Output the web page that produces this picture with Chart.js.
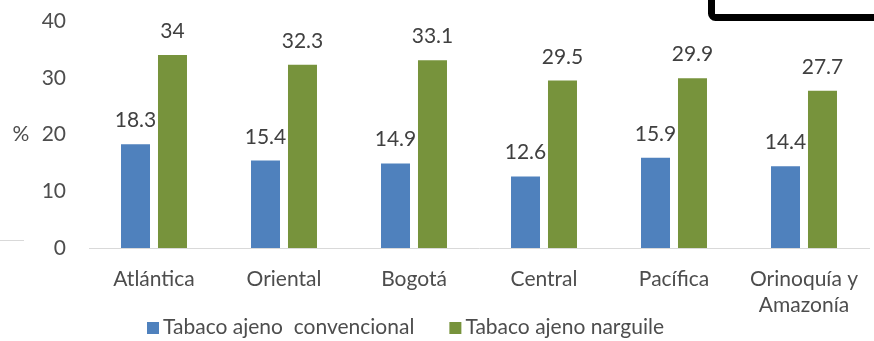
<!DOCTYPE html>
<html>
<head>
<meta charset="utf-8">
<script src="https://cdn.jsdelivr.net/npm/chart.js@4/dist/chart.umd.min.js"></script>
<style>
  body { margin: 0; background: #fff; }
</style>
</head>
<body>
<canvas id="tabacoRegion" width="874" height="341"></canvas>
<script>
// datos
var regiones = ['Atlántica', 'Oriental', 'Bogotá', 'Central', 'Pacífica', ['Orinoquía y', 'Amazonía']];
var convencional = [18.3, 15.4, 14.9, 12.6, 15.9, 14.4];
var narguile = [34, 32.3, 33.1, 29.5, 29.9, 27.7];
var yTicks = [0, 10, 20, 30, 40];
var nombresSerie = ['Tabaco ajeno  convencional', 'Tabaco ajeno narguile'];
var colores = ['#4f81bd', '#77933c'];

var fuente = 'Lato, "Noto Sans", sans-serif';

// etiquetas de valor encima de cada barra
var etiquetasValor = {
    id: 'etiquetasValor',
    afterDatasetsDraw: function(chart) {
        var ctx = chart.ctx;
        ctx.save();
        ctx.font = '21px ' + fuente;
        ctx.fillStyle = '#404040';
        ctx.textAlign = 'center';
        ctx.textBaseline = 'alphabetic';
        chart.data.datasets.forEach(function(ds, i) {
            chart.getDatasetMeta(i).data.forEach(function(bar, j) {
                ctx.fillText(String(ds.data[j]), bar.x, bar.y - 17);
            });
        });
        ctx.restore();
    }
};

// "%" horizontal, leyenda abajo y restos del recorte
var extras = {
    id: 'extras',
    afterDraw: function(chart) {
        var ctx = chart.ctx;
        var y = chart.scales.y;
        ctx.save();
        ctx.font = '21px ' + fuente;
        ctx.fillStyle = '#4d4d4d';
        ctx.textAlign = 'center';
        ctx.textBaseline = 'middle';
        ctx.fillText('%', 21, y.getPixelForValue(20));

        // leyenda
        var x = 147;
        ctx.textAlign = 'left';
        chart.data.datasets.forEach(function(ds) {
            ctx.fillStyle = ds.backgroundColor;
            ctx.fillRect(x, 322, 12, 12);
            ctx.fillStyle = '#4d4d4d';
            ctx.fillText(ds.label, x + 16, 327);
            x += 16 + ctx.measureText(ds.label).width + 35;
        });

        // linea gris a la izquierda y recuadro cortado arriba
        ctx.strokeStyle = '#d9d9d9';
        ctx.lineWidth = 1;
        ctx.beginPath();
        ctx.moveTo(0, 240.5);
        ctx.lineTo(24, 240.5);
        ctx.stroke();

        ctx.strokeStyle = '#000';
        ctx.lineWidth = 7;
        ctx.beginPath();
        ctx.moveTo(711.5, -10);
        ctx.lineTo(711.5, 13.5);
        ctx.arcTo(711.5, 17.5, 715.5, 17.5, 4);
        ctx.lineTo(890, 17.5);
        ctx.stroke();
        ctx.restore();
    }
};

var ctxTabaco = document.getElementById('tabacoRegion').getContext('2d');
var graficoTabaco = new Chart(ctxTabaco, {
    type: 'bar',
    data: {
        labels: regiones,
        datasets: [{
            label: nombresSerie[0],
            data: convencional,
            backgroundColor: colores[0]
        }, {
            label: nombresSerie[1],
            data: narguile,
            backgroundColor: colores[1]
        }]
    },
    options: {
        responsive: false,
        animation: false,
        categoryPercentage: 0.569,
        barPercentage: 0.784,
        layout: {
            padding: { top: 21, right: 5, left: 0, bottom: 0 }
        },
        plugins: {
            legend: { display: false },
            tooltip: { enabled: false }
        },
        scales: {
            x: {
                grid: { display: false, drawTicks: false },
                border: { display: true, color: '#d9d9d9', width: 1 },
                ticks: {
                    color: '#4d4d4d',
                    padding: 19,
                    maxRotation: 0,
                    font: { family: fuente, size: 21, lineHeight: 1.2 }
                },
                afterFit: function(s) {
                    s.height = 93;
                    s.paddingLeft = 0;
                    s.paddingRight = 0;
                }
            },
            y: {
                min: yTicks[0],
                max: yTicks[yTicks.length - 1],
                grid: { display: false, drawTicks: false },
                border: { display: false },
                ticks: {
                    stepSize: yTicks[1] - yTicks[0],
                    color: '#4d4d4d',
                    padding: 23,
                    font: { family: fuente, size: 21 }
                },
                afterFit: function(s) {
                    s.width = 89;
                    s.paddingTop = 0;
                    s.paddingBottom = 0;
                }
            }
        }
    },
    plugins: [etiquetasValor, extras]
});
</script>
</body>
</html>
